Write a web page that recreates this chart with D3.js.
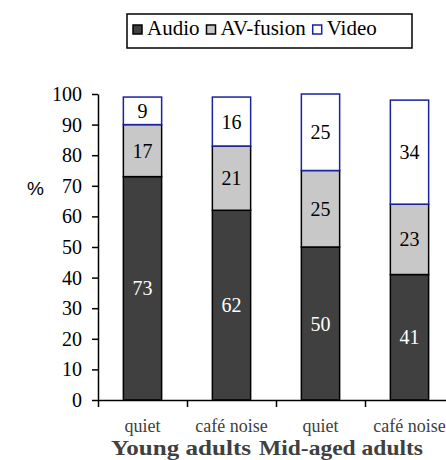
<!DOCTYPE html>
<html>
<head>
<meta charset="UTF-8">
<script src="https://d3js.org/d3.v7.min.js"></script>
<style>
  body { margin: 0; background: #fff; }
</style>
</head>
<body>
<script>
const conditions = ["quiet", "café noise", "quiet", "café noise"];
const groups = ["Young adults", "Mid-aged adults"];
const seriesNames = ["Audio", "AV-fusion", "Video"];
const audio = [73, 62, 50, 41];
const avFusion = [17, 21, 25, 23];
const video = [9, 16, 25, 34];
const yTicks = [0, 10, 20, 30, 40, 50, 60, 70, 80, 90, 100];

const width = 446, height = 460;
const margin = { top: 94, left: 98, bottom: 60 };
const bandW = 89;
const serif = "'Liberation Serif'";

const fills = { "Audio": "#404040", "AV-fusion": "#c8c8c8", "Video": "#ffffff" };
const strokes = { "Audio": "#000", "AV-fusion": "#000", "Video": "#1a22a0" };
const labelColor = { "Audio": "#fff", "AV-fusion": "#000", "Video": "#000" };

const svg = d3.select("body").append("svg")
  .attr("width", width).attr("height", height);

const ids = conditions.map((c, i) => i);
const x = d3.scaleBand().domain(ids)
  .range([margin.left, margin.left + bandW * ids.length])
  .paddingInner(0.57).paddingOuter(0.285);
const y = d3.scaleLinear().domain([0, 100]).range([400, margin.top]);

const rows = ids.map(i => ({ i, "Audio": audio[i], "AV-fusion": avFusion[i], "Video": video[i] }));
const stack = d3.stack().keys(seriesNames)(rows);

// bars
const layers = svg.append("g").selectAll("g").data(stack).enter().append("g");
layers.selectAll("rect").data(d => d.map(p => ({ key: d.key, p })))
  .enter().append("rect")
  .attr("x", d => x(d.p.data.i))
  .attr("width", x.bandwidth())
  .attr("y", d => y(d.p[1]))
  .attr("height", d => y(d.p[0]) - y(d.p[1]))
  .attr("fill", d => fills[d.key])
  .attr("stroke", d => strokes[d.key])
  .attr("stroke-width", 1.5);

layers.selectAll("text").data(d => d.map(p => ({ key: d.key, p })))
  .enter().append("text")
  .attr("x", d => x(d.p.data.i) + x.bandwidth() / 2)
  .attr("y", d => (y(d.p[0]) + y(d.p[1])) / 2)
  .attr("dy", "0.35em")
  .attr("text-anchor", "middle")
  .style("font-family", serif)
  .style("font-size", "20px")
  .attr("fill", d => labelColor[d.key])
  .text(d => d.p.data[d.key]);

// y axis
const yAxis = svg.append("g")
  .attr("transform", `translate(${margin.left},0)`)
  .call(d3.axisLeft(y).tickValues(yTicks).tickSize(6).tickSizeOuter(0).tickPadding(10));
yAxis.select(".domain").attr("stroke", "#000").attr("stroke-width", 1.5);
yAxis.selectAll(".tick line").attr("stroke", "#000").attr("stroke-width", 1.5);
yAxis.selectAll(".tick text")
  .style("font-family", serif)
  .style("font-size", "20px").attr("fill", "#000");

// x axis, ticks sit between the bars
const xEdge = d3.scaleLinear().domain([0, ids.length]).range([margin.left, margin.left + bandW * ids.length]);
const xAxis = svg.append("g")
  .attr("transform", `translate(0,${y(0)})`)
  .call(d3.axisBottom(xEdge).tickValues([0, 1, 2, 3]).tickSize(7).tickSizeOuter(0).tickFormat(""));
xAxis.select(".domain").attr("stroke", "#000").attr("stroke-width", 1.5);
xAxis.selectAll(".tick line").attr("stroke", "#000").attr("stroke-width", 1.5);

svg.append("g").selectAll("text").data(conditions).enter().append("text")
  .attr("x", (d, i) => x(i) + x.bandwidth() / 2)
  .attr("y", 432)
  .attr("text-anchor", "middle")
  .style("font-family", serif)
  .style("font-size", "18px")
  .attr("fill", "#404040")
  .text(d => d);

// group labels (slightly wide in the original)
const groupCx = [181, 341];
const groupLen = [140, 164];
svg.append("g").selectAll("text").data(groups).enter().append("text")
  .attr("x", (d, i) => groupCx[i])
  .attr("y", 455)
  .attr("text-anchor", "middle")
  .attr("textLength", (d, i) => groupLen[i])
  .attr("lengthAdjust", "spacingAndGlyphs")
  .style("font-family", serif)
  .style("font-size", "21px")
  .style("font-weight", "bold")
  .attr("fill", "#404040")
  .text(d => d);

// % label
svg.append("text")
  .attr("x", 27).attr("y", 195)
  .style("font-family", "'Liberation Sans'")
  .style("font-size", "19px")
  .text("%");

// legend
const legend = svg.append("g");
legend.append("rect")
  .attr("x", 127).attr("y", 14).attr("width", 285).attr("height", 34)
  .attr("fill", "#fff").attr("stroke", "#000").attr("stroke-width", 1.5);
let lx = 133;
seriesNames.forEach(k => {
  legend.append("rect")
    .attr("x", lx).attr("y", 25).attr("width", 9).attr("height", 9)
    .attr("fill", fills[k]).attr("stroke", strokes[k]).attr("stroke-width", 1.5);
  const t = legend.append("text")
    .attr("x", lx + 14).attr("y", 35)
    .style("font-family", serif)
    .style("font-size", "21px")
    .text(k);
  lx += 14 + t.node().getComputedTextLength() + 7;
});
</script>
</body>
</html>
